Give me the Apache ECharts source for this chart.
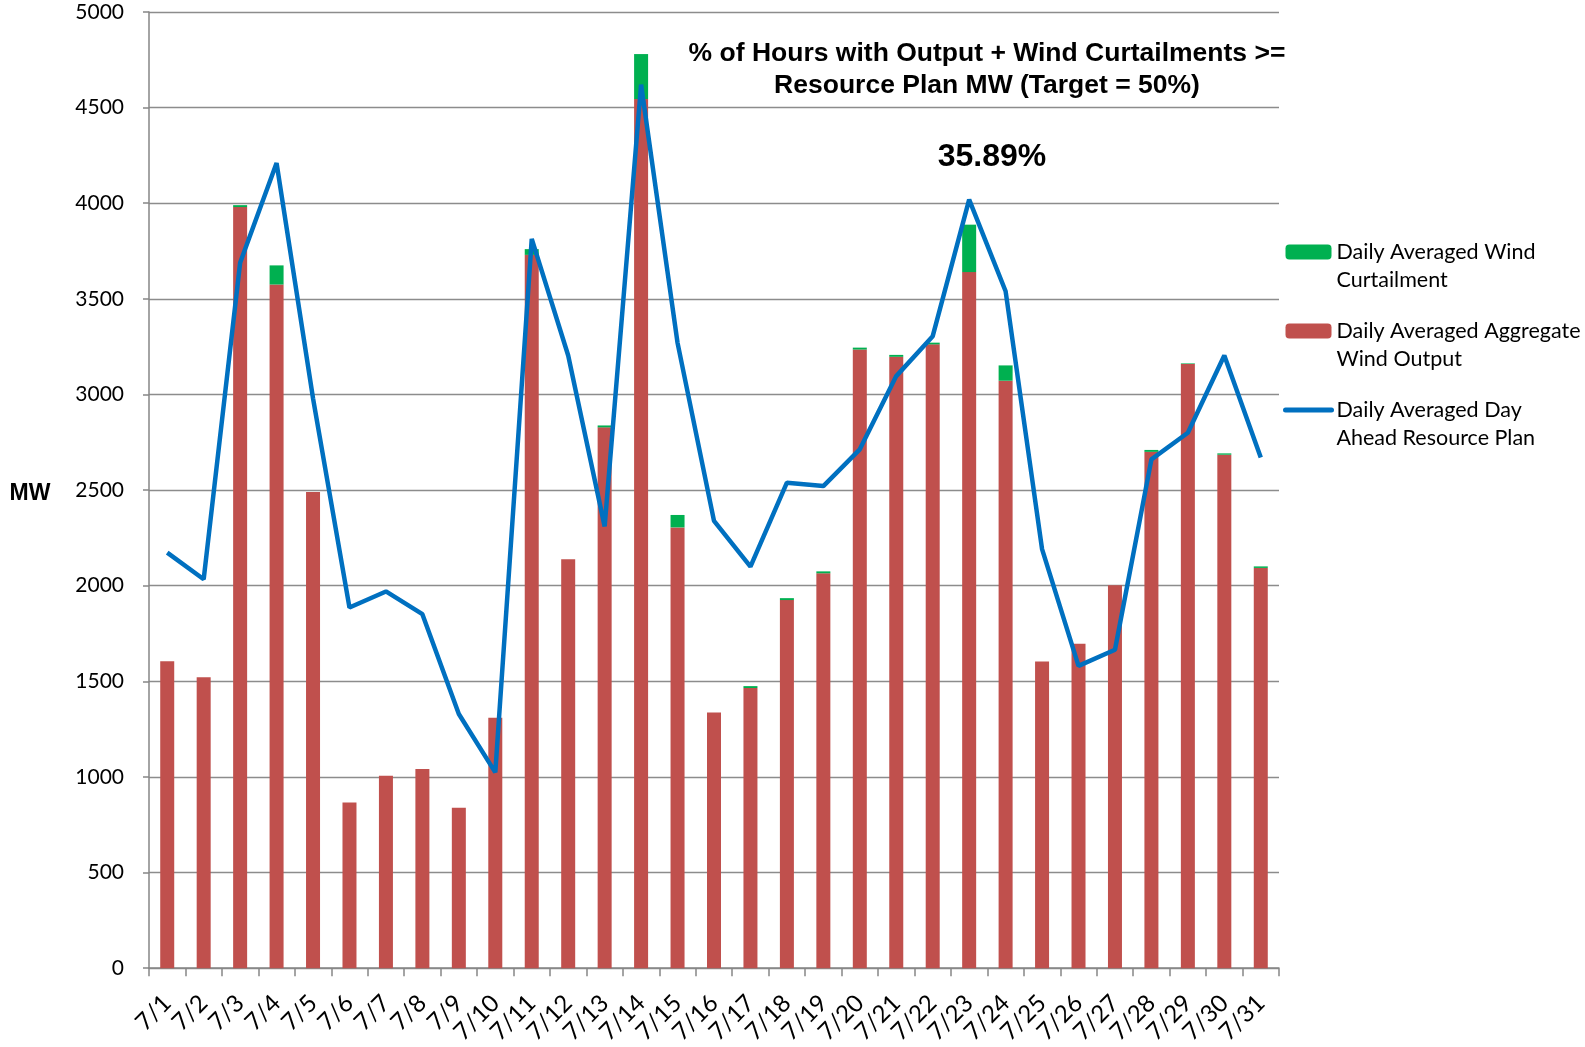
<!DOCTYPE html>
<html>
<head>
<meta charset="utf-8">
<script src="https://cdn.jsdelivr.net/npm/echarts@6/dist/echarts.min.js"></script>
<style>
	html, body { margin: 0; padding: 0; background: #fff; }
	#main { width: 1585px; height: 1047px; }
</style>
</head>
<body>
<div id="main"></div>
<script>
//日期
var days = ['7/1', '7/2', '7/3', '7/4', '7/5', '7/6', '7/7', '7/8', '7/9', '7/10',
	'7/11', '7/12', '7/13', '7/14', '7/15', '7/16', '7/17', '7/18', '7/19', '7/20',
	'7/21', '7/22', '7/23', '7/24', '7/25', '7/26', '7/27', '7/28', '7/29', '7/30', '7/31'];

//Daily Averaged Aggregate Wind Output
var windOutput = [1605, 1522, 3980, 3575, 2490, 867, 1006, 1041, 839, 1309,
	3730, 2138, 2828, 4545, 2305, 1337, 1465, 1925, 2065, 3235,
	3197, 3262, 3640, 3072, 1604, 1696, 2003, 2700, 3160, 2685, 2093];

//Daily Averaged Wind Curtailment
var curtailment = [0, 0, 10, 100, 0, 0, 0, 0, 0, 0,
	30, 0, 10, 235, 65, 0, 10, 10, 10, 10,
	10, 9, 248, 80, 0, 0, 0, 10, 3, 7, 8];

//Daily Averaged Day Ahead Resource Plan
var resourcePlan = [2173, 2034, 3689, 4210, 2980, 1886, 1970, 1851, 1329, 1024,
	3814, 3204, 2310, 4620, 3270, 2339, 2100, 2539, 2521, 2713,
	3096, 3305, 4019, 3540, 2191, 1581, 1665, 2661, 2800, 3204, 2670];

var yTicks = [0, 500, 1000, 1500, 2000, 2500, 3000, 3500, 4000, 4500, 5000];

var names = ['Daily Averaged Wind\nCurtailment', 'Daily Averaged Aggregate\nWind Output', 'Daily Averaged Day\nAhead Resource Plan'];

var myChart = echarts.init(document.getElementById('main'));
var option = {
	animation: false,
	backgroundColor: '#fff',
	title: [{
		text: '% of Hours with Output + Wind Curtailments >=\nResource Plan MW (Target = 50%)',
		left: 982,
		top: 33,
		textAlign: 'center',
		textStyle: {
			fontFamily: 'Liberation Sans',
			fontSize: 26.5,
			fontWeight: 'bold',
			lineHeight: 32,
			color: '#000'
		}
	}, {
		text: '35.89%',
		left: 987,
		top: 136,
		textAlign: 'center',
		textStyle: {
			fontFamily: 'Liberation Sans',
			fontSize: 32,
			fontWeight: 'bold',
			color: '#000'
		}
	}, {
		text: 'MW',
		left: 25,
		top: 477,
		textAlign: 'center',
		textStyle: {
			fontFamily: 'Liberation Sans',
			fontSize: 23,
			fontWeight: 'bold',
			color: '#000'
		}
	}],
	legend: {
		orient: 'vertical',
		left: 1283,
		top: 210,
		padding: 0,
		itemWidth: 46,
		itemHeight: 15,
		itemGap: -5,
		data: [
			{ name: names[0] },
			{ name: names[1] },
			{ name: names[2], itemStyle: { opacity: 0 }, lineStyle: { width: 5, cap: 'round' } }
		],
		//空行放在上面, 让图标对齐第一行文字
		formatter: function(name) {
			return ' \n' + name;
		},
		textStyle: {
			fontFamily: 'Lato',
			fontSize: 21.5,
			lineHeight: 28,
			color: '#000'
		}
	},
	grid: {
		left: 149,
		right: 306,
		top: 12,
		bottom: 78,
		containLabel: false
	},
	xAxis: {
		type: 'category',
		data: days,
		axisLine: { lineStyle: { color: '#868686', width: 1.5 } },
		axisTick: { show: true, length: 8, lineStyle: { color: '#868686', width: 1.5 } },
		axisLabel: {
			rotate: 45,
			margin: 31,
			interval: 0,
			fontFamily: 'Lato',
			fontSize: 24,
			color: '#000'
		}
	},
	yAxis: {
		type: 'value',
		min: yTicks[0],
		max: yTicks[yTicks.length - 1],
		interval: 500,
		axisLine: { show: true, lineStyle: { color: '#868686', width: 1.5 } },
		axisTick: { show: true, length: 6, lineStyle: { color: '#868686', width: 1.5 } },
		axisLabel: {
			margin: 25,
			fontFamily: 'Lato',
			fontSize: 21,
			color: '#000',
			formatter: function(v) {
				return String(v);
			}
		},
		splitLine: { lineStyle: { color: '#8c8c8c', width: 1.4 } }
	},
	series: [{
		name: names[1],
		type: 'bar',
		stack: 'wind',
		barWidth: 14,
		itemStyle: { color: '#C0504D' },
		data: windOutput
	}, {
		name: names[0],
		type: 'bar',
		stack: 'wind',
		barWidth: 14,
		itemStyle: { color: '#00B050' },
		data: curtailment
	}, {
		name: names[2],
		type: 'line',
		symbol: 'none',
		lineStyle: { color: '#0070C0', width: 4.5 },
		itemStyle: { color: '#0070C0' },
		data: resourcePlan
	}]
};
myChart.setOption(option);
</script>
</body>
</html>
